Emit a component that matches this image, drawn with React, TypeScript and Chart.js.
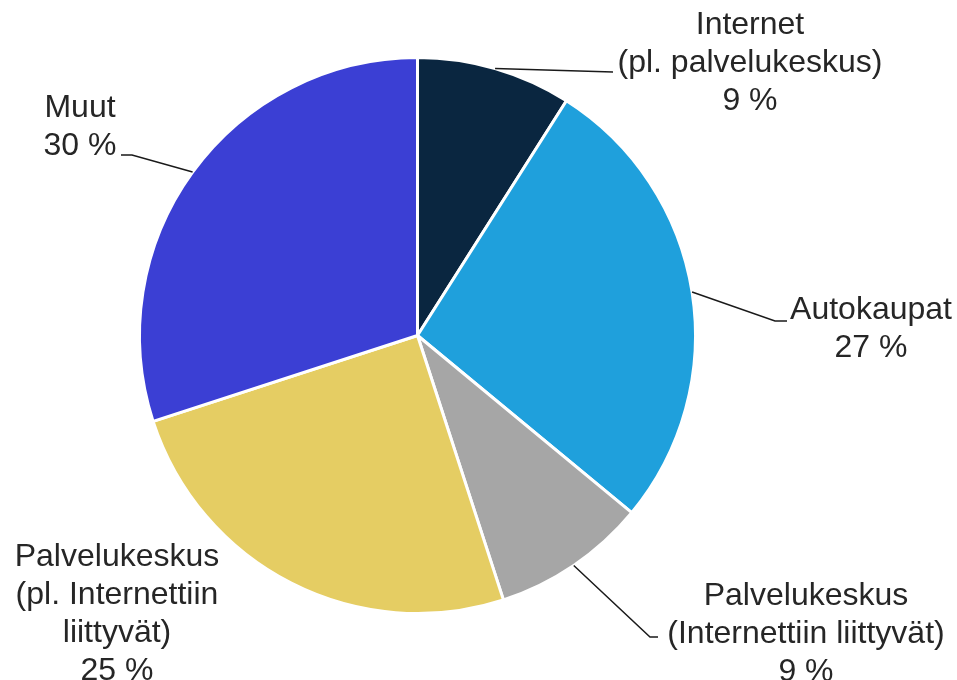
import React, { useEffect, useRef } from "react";
import { Chart, registerables } from "chart.js";

Chart.register(...registerables);

const categories: string[][] = [
  ["Internet", "(pl. palvelukeskus)"],
  ["Autokaupat"],
  ["Palvelukeskus", "(Internettiin liittyvät)"],
  ["Palvelukeskus", "(pl. Internettiin", "liittyvät)"],
  ["Muut"],
];
const values: number[] = [9, 27, 9, 25, 30];
const percentLabels: string[] = ["9 %", "27 %", "9 %", "25 %", "30 %"];
const colors: string[] = ["#0A2640", "#1FA0DC", "#A6A6A6", "#E5CD63", "#3B3FD4"];

// label layout (text center x, first line center y)
const labelCenters: [number, number][] = [
  [750, 25],
  [871, 310],
  [806, 596],
  [117, 557],
  [80, 108],
];
// leader line bend points after the slice edge (empty = no leader)
const leaderPoints: [number, number][][] = [
  [[613, 72]],
  [[775, 321], [787, 321]],
  [[650, 637], [658, 637]],
  [],
  [[132, 155], [121, 155]],
];

const FONT_SIZE = 32;
const LINE_H = 38;
const TEXT_COLOR = "#262626";

const labelPlugin = {
  id: "pieLabels",
  afterDraw(chart: any) {
    const ctx = chart.ctx;
    const meta = chart.getDatasetMeta(0);
    ctx.save();
    meta.data.forEach((arc: any, i: number) => {
      const pts = leaderPoints[i];
      if (pts.length) {
        const mid = (arc.startAngle + arc.endAngle) / 2;
        const r = arc.outerRadius;
        const sx = arc.x + Math.cos(mid) * r;
        const sy = arc.y + Math.sin(mid) * r;
        ctx.beginPath();
        ctx.moveTo(sx, sy);
        pts.forEach((p) => ctx.lineTo(p[0], p[1]));
        ctx.strokeStyle = "#1a1a1a";
        ctx.lineWidth = 1.5;
        ctx.stroke();
      }
      const lines = [...categories[i], percentLabels[i]];
      const [cx, cy] = labelCenters[i];
      ctx.font = `${FONT_SIZE}px "Liberation Sans", Arial, sans-serif`;
      ctx.fillStyle = TEXT_COLOR;
      ctx.textAlign = "center";
      ctx.textBaseline = "middle";
      lines.forEach((t, k) => {
        ctx.fillText(t, cx, cy + k * LINE_H);
      });
    });
    ctx.restore();
  },
};

export default function App() {
  const ref = useRef<HTMLCanvasElement | null>(null);
  useEffect(() => {
    if (!ref.current) return;
    const chart = new Chart(ref.current, {
      type: "pie",
      data: {
        labels: categories.map((c) => c.join(" ")),
        datasets: [
          {
            data: values,
            backgroundColor: colors,
            borderColor: "#ffffff",
            borderWidth: 3,
          },
        ],
      },
      options: {
        responsive: false,
        animation: false,
        devicePixelRatio: 1,
        layout: { padding: { top: 56, bottom: 65, left: 138, right: 260 } },
        plugins: {
          legend: { display: false },
          tooltip: { enabled: false },
        },
      },
      plugins: [labelPlugin],
    });
    return () => chart.destroy();
  }, []);
  return (
    <div style={{ position: "absolute", left: 0, top: 0, width: 957, height: 680, background: "#fff" }}>
      <canvas ref={ref} width={957} height={680} />
    </div>
  );
}
